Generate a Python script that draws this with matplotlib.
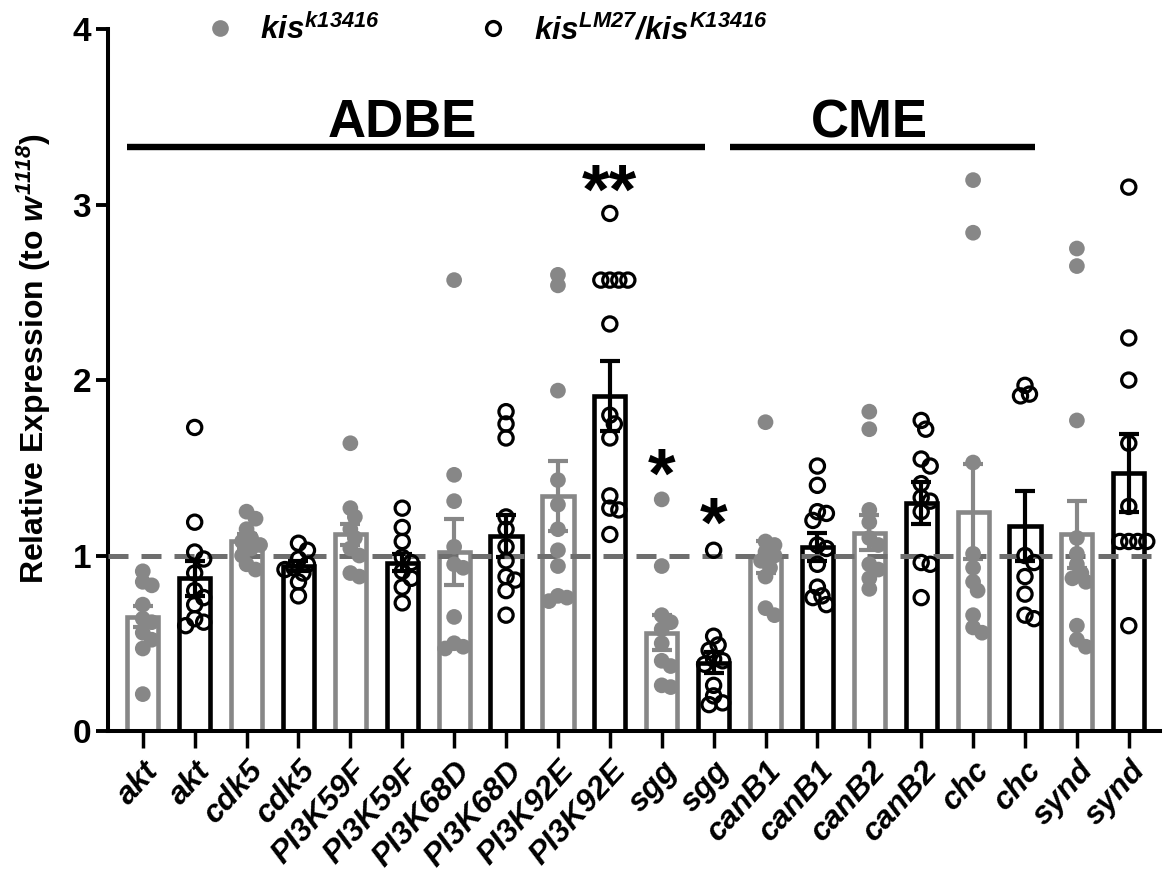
import numpy as np
import matplotlib
matplotlib.use("Agg")
import matplotlib.pyplot as plt
from matplotlib.lines import Line2D

plt.rcParams['font.family'] = ['Liberation Sans', 'DejaVu Sans']
plt.rcParams['font.weight'] = 'bold'
plt.rcParams['mathtext.fontset'] = 'custom'
plt.rcParams['mathtext.rm'] = 'Liberation Sans:italic:bold'
plt.rcParams['mathtext.it'] = 'Liberation Sans:italic:bold'
plt.rcParams['mathtext.bf'] = 'Liberation Sans:bold'

# ---------------- data ----------------
genes = ["akt", "akt", "cdk5", "cdk5", "PI3K59F", "PI3K59F", "PI3K68D", "PI3K68D",
         "PI3K92E", "PI3K92E", "sgg", "sgg", "canB1", "canB1", "canB2", "canB2",
         "chc", "chc", "synd", "synd"]
genotype = ["kis1", "kis2"] * 10   # alternating: kis^k13416 (gray), kis^LM27/kis^K13416 (black)

means = [0.65, 0.87, 1.08, 0.94, 1.12, 0.96, 1.02, 1.11, 1.34, 1.91,
         0.56, 0.39, 0.99, 1.05, 1.13, 1.30, 1.25, 1.17, 1.12, 1.47]
sems = [0.06, 0.10, 0.04, 0.03, 0.06, 0.05, 0.19, 0.12, 0.20, 0.20,
        0.10, 0.06, 0.09, 0.08, 0.10, 0.12, 0.27, 0.20, 0.19, 0.22]

points = [
    [0.91, 0.85, 0.83, 0.72, 0.64, 0.62, 0.56, 0.52, 0.47, 0.21],
    [1.73, 1.19, 1.02, 0.98, 0.90, 0.80, 0.76, 0.72, 0.64, 0.62, 0.60],
    [1.25, 1.21, 1.15, 1.10, 1.08, 1.06, 1.04, 1.00, 0.95, 0.92],
    [1.07, 1.03, 0.98, 0.95, 0.93, 0.92, 0.90, 0.85, 0.77],
    [1.64, 1.27, 1.22, 1.15, 1.10, 1.04, 1.00, 0.90, 0.88],
    [1.27, 1.16, 1.08, 0.99, 0.96, 0.91, 0.87, 0.82, 0.73],
    [2.57, 1.46, 1.31, 1.05, 0.95, 0.93, 0.65, 0.50, 0.48, 0.47],
    [1.82, 1.75, 1.67, 1.22, 1.15, 1.05, 0.97, 0.88, 0.86, 0.80, 0.66],
    [2.60, 2.54, 1.94, 1.43, 1.29, 1.15, 1.03, 0.94, 0.77, 0.76, 0.74],
    [2.95, 2.57, 2.57, 2.57, 2.57, 2.32, 1.80, 1.75, 1.67, 1.34, 1.27, 1.26, 1.12],
    [1.32, 0.94, 0.66, 0.62, 0.58, 0.50, 0.40, 0.37, 0.26, 0.25],
    [1.03, 0.54, 0.49, 0.46, 0.41, 0.40, 0.38, 0.26, 0.20, 0.16, 0.15],
    [1.76, 1.08, 1.06, 1.02, 1.00, 0.97, 0.93, 0.88, 0.70, 0.66],
    [1.51, 1.40, 1.25, 1.24, 1.20, 1.06, 1.04, 0.95, 0.82, 0.77, 0.76, 0.72],
    [1.82, 1.72, 1.26, 1.19, 1.10, 1.06, 0.95, 0.92, 0.87, 0.81],
    [1.77, 1.72, 1.55, 1.51, 1.41, 1.33, 1.31, 1.25, 0.96, 0.95, 0.76],
    [3.14, 2.84, 1.53, 1.01, 0.93, 0.85, 0.80, 0.66, 0.59, 0.56],
    [1.97, 1.92, 1.91, 1.00, 0.96, 0.88, 0.78, 0.66, 0.64],
    [2.75, 2.65, 1.77, 1.10, 1.01, 0.95, 0.90, 0.87, 0.85, 0.60, 0.52, 0.48],
    [3.10, 2.24, 2.00, 1.64, 1.28, 1.08, 1.08, 1.08, 1.08, 0.60],
]

star_labels = ["**", "*", "*"]
star_bars = [9, 10, 11]
star_y = [3.05, 1.43, 1.15]

group_names = ["ADBE", "CME"]
group_start = [-0.31, 11.31]
group_end = [10.83, 17.19]
group_center = [5.0, 14.0]
group_y = 3.33

legend_labels = [r"$\mathit{kis}^{\mathit{k13416}}$",
                 r"$\mathit{kis}^{\mathit{LM27}}\mathit{/kis}^{\mathit{K13416}}$"]

GRAY = "#878787"
BLACK = "#000000"

# ---------------- figure ----------------
fig = plt.figure(figsize=(11.74, 8.86), dpi=100)
ax = fig.add_axes([0.092, 0.175, 0.896, 0.792])
ax.set_xlim(-0.67, 19.6)
ax.set_ylim(0, 4)

x = np.arange(len(genes))
colors = [GRAY if g == "kis1" else BLACK for g in genotype]

ax.bar(x, means, width=0.6, facecolor="white", edgecolor=colors, linewidth=3.3, zorder=2)
for xi, m, s, c in zip(x, means, sems, colors):
    ax.errorbar(xi, m, yerr=s, fmt="none", ecolor=c, elinewidth=3.0,
                capsize=7, capthick=3.0, zorder=3)

ax.axhline(1.0, color="#6e6e6e", lw=3.6, dashes=(4, 2.6), zorder=4)


def swarm(vals, step_px, min_px, xscale, yscale):
    """simple deterministic beeswarm offsets in data units"""
    placed = []
    offs = []
    cands = [0.0]
    for j in range(1, 20):
        cands += [j * step_px, -j * step_px]
    for v in vals:
        ox = 0.0
        for c in cands:
            ok = True
            for (px, py) in placed:
                if (c - px) ** 2 + ((v - py) * yscale) ** 2 < min_px ** 2:
                    ok = False
                    break
            if ok:
                ox = c
                break
        placed.append((ox, v))
        offs.append(ox / xscale)
    return offs


fig.canvas.draw()
p0 = ax.transData.transform((0, 0))
p1 = ax.transData.transform((1, 1))
xs = p1[0] - p0[0]
ys = p1[1] - p0[1]

for i, vals in enumerate(points):
    offs = swarm(vals, 4.5, 9.0, xs, ys)
    px = [x[i] + o for o in offs]
    if genotype[i] == "kis1":
        ax.scatter(px, vals, s=128, color=GRAY, edgecolors="none", zorder=5, clip_on=False)
    else:
        ax.scatter(px, vals, s=105, facecolors="none", edgecolors=BLACK,
                   linewidths=2.3, zorder=5, clip_on=False)

for b, st, yy in zip(star_bars, star_labels, star_y):
    ax.text(x[b], yy, st, ha="center", va="center", fontsize=51,
            fontweight="bold", zorder=6)

for name, a, b, c in zip(group_names, group_start, group_end, group_center):
    ax.plot([a, b], [group_y, group_y], color="black", lw=4.6,
            solid_capstyle="butt", clip_on=False)
    ax.text(c, group_y + 0.055, name, ha="center", va="baseline",
            fontsize=38, fontweight="bold")

# axes styling
for sp in ["top", "right"]:
    ax.spines[sp].set_visible(False)
for sp in ["left", "bottom"]:
    ax.spines[sp].set_linewidth(2.9)
ax.set_yticks([0, 1, 2, 3, 4])
ax.set_yticklabels(["0", "1", "2", "3", "4"], fontsize=24, fontweight="bold")
ax.tick_params(axis="y", length=9, width=2.8, pad=3)
ax.set_xticks(x)
ax.set_xticklabels(genes, fontsize=23, fontweight="bold", fontstyle="italic",
                   rotation=48, ha="right", rotation_mode="anchor")
ax.tick_params(axis="x", length=12, width=2.5, pad=6)
ax.set_ylabel(r"Relative Expression (to $\mathit{w}^{\mathit{1118}}$)",
              fontsize=23, fontweight="bold")
ax.yaxis.set_label_coords(-0.052, 0.53)

handles = [Line2D([], [], marker="o", ls="none", color=GRAY, markersize=12, markeredgewidth=0),
           Line2D([], [], marker="o", ls="none", markerfacecolor="none",
                  markeredgecolor=BLACK, markersize=10, markeredgewidth=2.4)]
leg = ax.legend(handles, legend_labels, ncol=2, loc="center left",
                bbox_to_anchor=(0.15, 0.966), bbox_transform=fig.transFigure,
                frameon=False, fontsize=22.5, handletextpad=0.8, columnspacing=3.1,
                handlelength=1.0)

fig.savefig("out.png", dpi=100)
